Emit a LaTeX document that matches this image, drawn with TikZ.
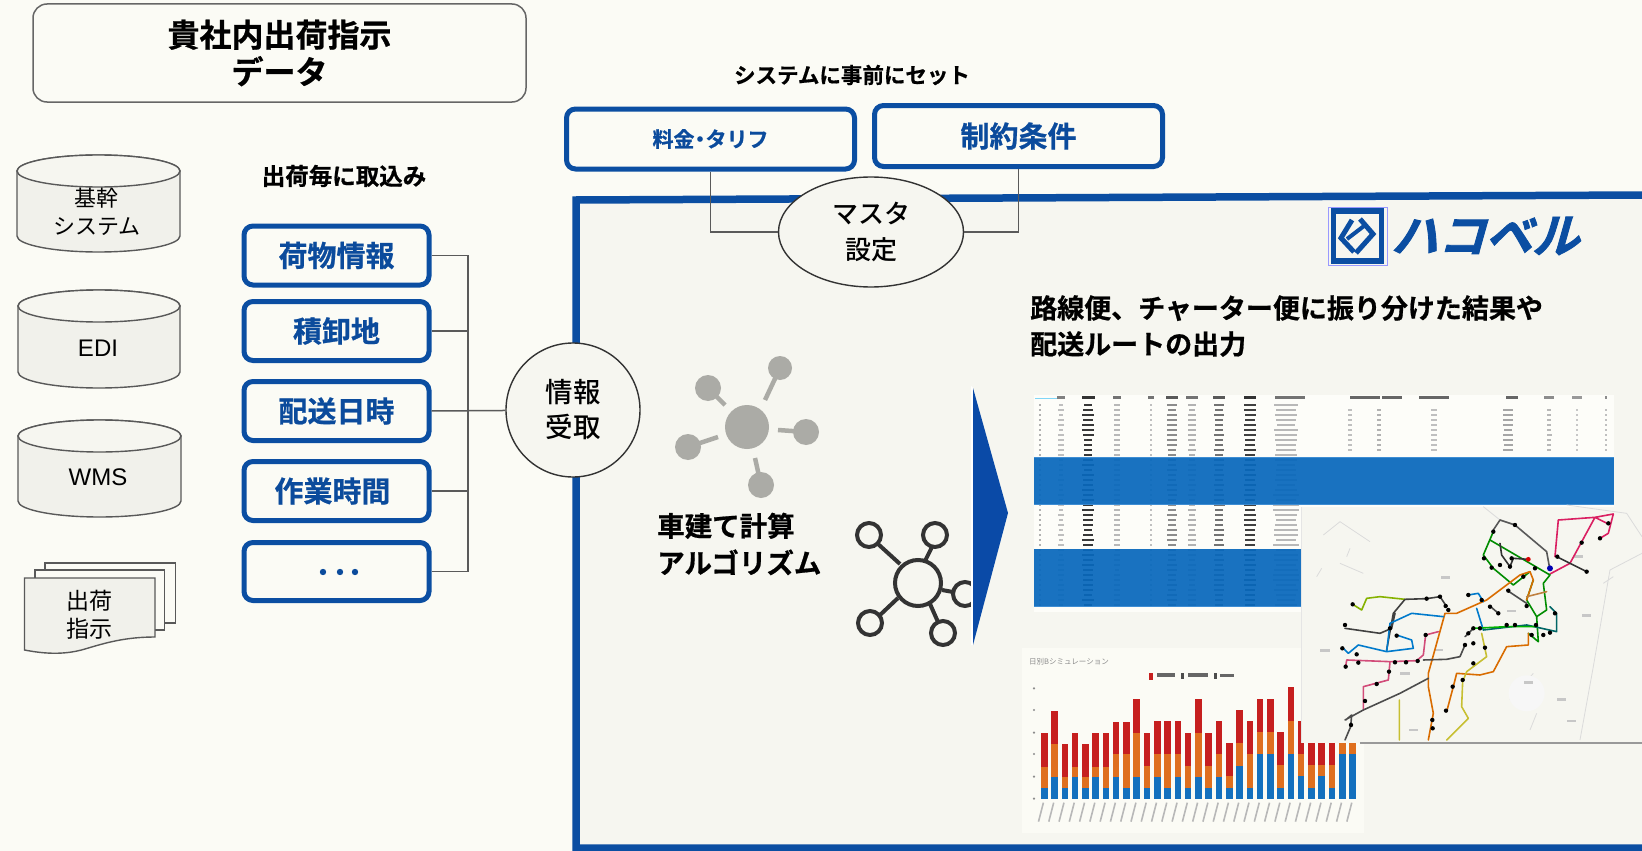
\documentclass[tikz,border=0pt]{standalone}
\usepackage{fontspec}
\setmainfont{Noto Sans CJK JP}[BoldFont={Noto Sans CJK JP Bold},BoldFeatures={FakeBold=0.7}]
\newfontfamily\latinfont{Liberation Sans}
\newfontfamily\medfont{Noto Sans CJK JP Medium}
\newfontfamily\logofont{Noto Sans CJK JP Bold}[FakeSlant=0.28,FakeBold=1.8]
\usetikzlibrary{shapes.geometric}
\definecolor{paper}{HTML}{FBFBF5}
\definecolor{inner}{HTML}{F6F6F0}
\definecolor{hblue}{HTML}{0B4EA2}
\definecolor{tblue}{HTML}{0B4B9C}
\definecolor{band}{HTML}{0868BC}
\definecolor{lineg}{HTML}{5A5A5A}
\definecolor{cylf}{HTML}{F1F1EB}
\definecolor{icong}{HTML}{ABABA6}
\definecolor{barb}{HTML}{1470BE}
\definecolor{baro}{HTML}{DF6F1E}
\definecolor{barr}{HTML}{C61F1E}
\tikzset{
  bluebox/.style={draw=hblue,line width=5pt,rounded corners=9pt,fill=paper,text=tblue,inner sep=0pt,align=center},
  plain/.style={inner sep=0pt,align=center,text=black},
  round/.style={ellipse,draw=black!80,line width=1.4pt,fill=inner,inner sep=0pt,align=center},
  link/.style={draw=lineg,line width=1.5pt},
  shapeline/.style={draw=black!65,line width=1.4pt,fill=cylf},
  route/.style={line width=1.6pt,line join=round,line cap=round},
  rule/.style={line width=.8pt,draw=black!14},
}
\newcommand{\cylinder}[5]{% x1 x2 ycenter ry ybottom
  \pgfmathsetmacro{\rxx}{(#2-#1)/2}
  \draw[shapeline] (#1,#3) -- (#1,#5) arc[x radius=\rxx pt,y radius=#4pt,start angle=180,end angle=360] -- (#2,#3) arc[x radius=\rxx pt,y radius=#4pt,start angle=0,end angle=180] -- cycle;
  \draw[shapeline,fill=inner] (#1,#3) arc[x radius=\rxx pt,y radius=#4pt,start angle=180,end angle=540] -- cycle;
}
\newcommand{\fsz}[2]{\fontsize{#1}{#2}\selectfont}
\newcommand{\lowered}[1]{\raisebox{-1.5pt}{#1}}
\begin{document}
\begin{tikzpicture}[x=1pt,y=-1pt]
\useasboundingbox (0,0) rectangle (1642,851);
\fill[paper] (0,0) rectangle (1642,851);

% big frame
\fill[inner] (576,200) -- (1642,195) -- (1642,848) -- (576,848) -- cycle;
\draw[hblue,line width=7.5pt,line join=miter] (1642,195) -- (576,200) -- (576,848) -- (1642,848);

% headline box
\node[draw=black!60,line width=1.5pt,rounded corners=14pt,fill=paper,minimum width=493pt,minimum height=98pt,plain,font=\fsz{32}{37}\bfseries] (head) at (279.5,53) {貴社内出荷指示\\データ};

% cylinders
\cylinder{17}{180}{171}{16}{236}
\node[plain,font=\fsz{22}{28}] (kikan) at (97,212) {基幹\\システム};
\cylinder{18}{180}{306}{16}{372}
\node[plain,font=\latinfont\fsz{24}{28}] (edi) at (98,348.5) {EDI};
\cylinder{18}{181}{436}{16}{501}
\node[plain,font=\latinfont\fsz{24}{28}] (wms) at (98,477.5) {WMS};

% documents
\draw[shapeline,fill=paper] (45,563) -- (175.5,563) -- (175.5,623) -- (45,623) -- cycle;
\draw[shapeline,fill=paper] (35,570) -- (164.5,570) -- (164.5,630) -- (35,630) -- cycle;
\draw[shapeline] (24.5,578) -- (155,578) -- (155,637) .. controls (125,637) and (105,643) .. (85,649) .. controls (65,655) and (45,654) .. (24.5,650) -- cycle;
\node[plain,font=\fsz{23}{28}] (docs) at (89,615) {出荷\\指示};

% source labels
\node[plain,font=\fsz{23.5}{28}\bfseries] (lab1) at (344,176) {出荷毎に取込み};
\node[plain,font=\fsz{21.5}{26}\bfseries] (lab2) at (852,75) {システムに事前にセット};

% item boxes
\node[bluebox,minimum width=185pt,minimum height=59pt,font=\fsz{29}{34}\bfseries] (b1) at (336.5,255.5) {\lowered{荷物情報}};
\node[bluebox,minimum width=185pt,minimum height=59pt,font=\fsz{29}{34}\bfseries] (b2) at (336.5,331) {\lowered{積卸地}};
\node[bluebox,minimum width=185pt,minimum height=59pt,font=\fsz{29}{34}\bfseries] (b3) at (336.5,411) {\lowered{配送日時}};
\node[bluebox,minimum width=185pt,minimum height=59pt,font=\fsz{29}{34}\bfseries] (b4) at (336.5,491) {\hspace*{-8pt}\lowered{作業時間}};
\node[bluebox,minimum width=185pt,minimum height=58pt] (b5) at (336.5,571.5) {};
\foreach \dx in {323,340,355} \fill[tblue] (\dx,572) circle[radius=3.2pt];

% top boxes
\node[bluebox,minimum width=288pt,minimum height=60pt,font=\fsz{21}{26}\bfseries] (rate) at (710.5,139) {\lowered{料金\hspace{-5pt}・\hspace{-5pt}タリフ}};
\node[bluebox,minimum width=288pt,minimum height=61pt,font=\fsz{29}{34}\bfseries] (cond) at (1018.5,136) {\lowered{制約条件}};

% circles
\node[round,minimum width=134pt,minimum height=134pt,font=\medfont\fsz{27.5}{35}] (info) at (573,410) {情報\\受取};
\node[round,minimum width=185pt,minimum height=110pt,font=\medfont\fsz{26}{36}] (master) at (871,232) {マスタ\\設定};

% connectors
\coordinate (busbot) at (468,571.5);
\draw[link] (b1.east) -| (busbot);
\draw[link] (b2.east) -- (b2.east -| busbot);
\draw[link] (b4.east) -- (b4.east -| busbot);
\draw[link] (b5.east) -- (busbot);
\draw[link] (b3.east) -- (info);
\draw[link] (rate.south) |- (master);
\draw[link] (cond.south) |- (master);

% logo
\draw[blue!40!white,line width=1pt] (1328,207) rectangle (1387,265);
\draw[hblue,line width=5.5pt] (1333.5,211) rectangle (1381.5,261);
\draw[hblue,line width=5pt,line join=miter] (1352,220) -- (1341,238) -- (1354,252);
\draw[hblue,line width=5pt,line join=miter] (1360,219) -- (1373,234) -- (1356,253);
\draw[hblue,line width=4pt] (1347,239) -- (1364,226);
\node[inner sep=0pt,text=hblue,font=\logofont\fsz{47}{52}] (logo) at (1485,236) {ハコベル};

% output heading
\node[plain,align=left,anchor=west,font=\fsz{27}{36}\bfseries] (outp) at (1030,326) {路線便、チャーター便に振り分けた結果や\\配送ルートの出力};

% gray network icon
\foreach \ax/\ay/\bx/\by in {780/368/765/400,708/388/725/405,688/447/718/437,806/432/778/430,761/485/755/458}
  \draw[icong,line width=4.5pt] (\ax,\ay) -- (\bx,\by);
\fill[icong] (747,427) circle[radius=22pt];
\foreach \ax/\ay/\r in {780/368/12,708/388/13,688/447/13,806/432/13,761/485/13}
  \fill[icong] (\ax,\ay) circle[radius=\r pt];

\node[plain,align=left,anchor=west,font=\fsz{27.5}{37}\bfseries] (algo) at (657,544) {車建て計算\\アルゴリズム};

% outline network icon
\draw[black!80,line width=4pt] (918,583) circle[radius=23pt];
\foreach \ax/\ay in {869/535,935/535,870/623,943/633,965/594}
  \draw[black!80,line width=4pt] (\ax,\ay) circle[radius=12pt];
\foreach \ax/\ay/\bx/\by in {878/544/900/564,932/547/925/561,880/615/898/598,938/622/930/604,953/592/942/590}
  \draw[black!80,line width=4pt] (\ax,\ay) -- (\bx,\by);

% big arrow
\fill[white] (971,386) -- (973,388) -- (973,645) -- (971,645) -- cycle;
\fill[hblue!95!blue] (973,388) -- (1008,513) -- (973,645) -- cycle;

% bar chart panel
\fill[paper] (1022,648) rectangle (1364,833);
\begin{scope}[shift={(1000,620)},x=0.4095pt,y=-.3333pt]
  \foreach \i/\b/\o/\r in {0/505/440/340,1/472/372/272,2/505/472/372,3/472/440/340,4/505/472/372,5/472/440/340,6/505/440/340,7/472/403/305,8/505/403/305,9/472/338/238,10/505/437/340,11/472/403/303,12/505/403/303,13/470/403/303,14/505/437/338,15/472/338/238,16/505/437/338,17/472/403/303,18/505/468/370,19/437/370/270,20/505/403/303,21/403/335/238,22/403/335/238,23/505/435/335,24/403/302/202,25/468/403/302,26/505/435/365,27/468/435/365,28/505/435/365,29/403/365/365,30/403/365/365}{
    \pgfmathsetmacro{\cx}{108+25.1*\i}
    \fill[barr] ({\cx-8},\r) rectangle ({\cx+8},\o);
    \fill[baro] ({\cx-8},\o) rectangle ({\cx+8},\b);
    \fill[barb] ({\cx-8},\b) rectangle ({\cx+8},538);
    \draw[black!28,line width=1.6pt] ({\cx-2},548) -- ({\cx-14},605);
  }
  \foreach \yy in {205,270,338,402,470,536}
    \fill[black!45] (83,\yy) circle[radius=1.2pt];
  \fill[barr] (364,158) rectangle (374,180);
  \fill[black!60] (384,160) rectangle (428,172);
  \fill[black!70] (443,158) rectangle (450,176);
  \fill[black!60] (458,160) rectangle (508,172);
  \fill[black!70] (522,158) rectangle (529,176);
  \fill[black!60] (538,162) rectangle (572,170);
\end{scope}
\node[inner sep=0pt,anchor=west,text=black!45,font=\fsz{7.5}{9}] (ctitle) at (1029,662) {日別Bシミュレーション};

% table
\fill[paper!60!white] (1034,395) rectangle (1614,612);
\draw[cyan!50!white,line width=1pt] (1035,398) -- (1060,398);
\pgfmathsetseed{7}
\foreach \cxx/\w/\sh in {1061/8/50,1088/13/80,1117/8/55,1151/6/55,1172/12/65,1192/12/55,1219/12/65,1250/12/80,1290/30/55,1365/30/60,1392/20/60,1434/30/60,1512/12/60,1549/10/45,1577/10/40,1606/2/45}
  \fill[black!\sh] ({\cxx-\w/2},396) rectangle ({\cxx+\w/2},399);
\foreach \yy in {404,409,...,604}{
  \foreach \cxx/\w/\sh in {1040/2/30,1061/6/25,1088/12/78,1117/7/28,1151/3/25,1172/10/45,1192/9/30,1219/11/55,1250/13/75,1286/26/28}{
    \pgfmathsetmacro{\vv}{\w*(0.7+0.3*rnd)}
    \fill[black!\sh] ({\cxx-\vv/2},\yy) rectangle ({\cxx+\vv/2},\yy+2.2);
  }
}
\foreach \yy in {409,414,...,452}{
  \foreach \cxx/\w/\sh in {1350/5/25,1379/5/30,1434/7/25,1508/12/35,1549/5/28,1577/3/22,1606/2/25}{
    \pgfmathsetmacro{\vv}{\w*(0.7+0.3*rnd)}
    \fill[black!\sh] ({\cxx-\vv/2},\yy) rectangle ({\cxx+\vv/2},\yy+2.2);
  }
}
\fill[band,opacity=.93] (1034,457) rectangle (1614,504);
\draw[cyan!60!blue!80!white,line width=.8pt] (1034,457) -- (1614,457) (1034,504) -- (1614,504);
\fill[band,opacity=.93] (1034,549) rectangle (1301,606);
\draw[cyan!60!blue!80!white,line width=.8pt] (1034,606) -- (1301,606);

% map
\fill[paper!98!black] (1301,507) rectangle (1642,743);
\draw[black!10,line width=1pt] (1301,507) -- (1301,743);
\begin{scope}[shift={(1280,500)},x=.3333pt,y=-.3333pt]
  \draw[rule] (130,105) -- (180,65) -- (270,125) (200,170) -- (210,145) (110,230) -- (125,205) (180,190) -- (250,220)
    (860,15) -- (1040,40) -- (1086,110) (1086,160) -- (990,210) -- (940,500) -- (900,720) (690,600) -- (760,520) (770,640) -- (750,690) (610,20) -- (660,60) (1000,230) -- (970,250);
  \fill[black!3] (740,580) ellipse[x radius=18pt,y radius=18pt];
  \foreach \lx/\ly in {497/232,695/333,920/347,895/170,475/450,400/690,745/548,845/598,875/663,135/452,375/520}{
    \fill[black!22] (\lx-14,\ly-4) rectangle (\lx+14,\ly+4);
  }
  % routes
  \draw[route,color=magenta!60!red!90!black] (960,115) -- (985,100) -- (1000,42) -- (945,52) -- (835,60) -- (825,170) (945,52) -- (870,190) -- (810,222) (945,52) -- (985,72);
  \draw[route,color=black!65] (640,90) -- (660,60) -- (705,75) -- (800,155) -- (810,210);
  \draw[route,color=green!55!black] (640,95) -- (610,165) -- (640,205) -- (700,255) -- (750,215) (630,120) -- (810,225) -- (790,250) -- (800,330) -- (770,350) -- (775,425) -- (745,400) (760,240) -- (740,300) -- (770,350);
  \draw[route,color=black!80] (660,130) -- (665,165) -- (690,200) -- (700,175) -- (745,178) (830,170) -- (870,190) -- (920,215);
  \draw[route,color=black!70] (632,320) -- (655,340) (680,270) -- (740,310);
  \draw[route,color=orange!85!black] (445,720) -- (460,640) -- (445,560) -- (445,520) -- (495,340) -- (530,340) -- (620,300) -- (720,225) -- (750,215) -- (760,240) -- (740,300) (500,635) -- (520,560) -- (530,520) -- (600,525) -- (640,515) -- (680,440) -- (745,435) -- (745,400);
  \draw[route,color=yellow!75!black] (500,720) -- (565,655) -- (545,620) -- (548,545) -- (560,515) -- (620,470) -- (605,400) (358,720) -- (358,600);
  \draw[route,color=lime!70!black] (218,313) -- (245,330) -- (260,295) -- (300,290) -- (375,298);
  \draw[route,color=black!75] (375,298) -- (440,296) -- (480,290) -- (500,320) (375,298) -- (340,340) -- (320,450) (195,385) -- (300,400) -- (335,385) -- (345,340);
  \draw[route,color=blue!40!cyan!80!black] (320,455) -- (330,370) -- (395,340) -- (490,350) (350,405) -- (395,420) -- (400,445) -- (320,455) -- (235,435) -- (205,460) -- (190,445) (565,285) -- (595,280) -- (610,305) (590,325) -- (610,390);
  \draw[route,color=purple!70!white] (197,500) -- (200,480) -- (330,485) -- (410,482) -- (430,465) -- (437,405) -- (475,395) (330,485) -- (325,540) -- (250,560) -- (250,630);
  \draw[route,color=black!70] (195,660) -- (250,630) -- (360,580) -- (445,535) (430,480) -- (500,478) -- (540,470) -- (555,435) (555,410) -- (580,385) (197,660) -- (215,645) -- (212,680) -- (195,720);
  \draw[route,color=teal!80!black] (610,390) -- (740,375) -- (830,395) -- (830,340) -- (810,320);
  \draw[route,color=green!70!black] (580,385) -- (680,380) -- (770,380);
  \draw[route,color=brown] (740,290) -- (800,275);
  \foreach \dx/\dy in {218/313,195/375,187/445,230/463,197/500,235/488,255/603,290/552,327/515,345/487,378/487,413/483,437/405,350/407,330/385,440/296,480/290,497/318,505/330,565/285,605/300,655/340,630/320,685/272,730/230,765/205,810/205,832/170,905/128,960/115,985/70,920/215,705/75,640/95,612/175,635/203,660/195,690/200,695/175,740/318,768/375,755/405,790/405,810/398,825/340,680/375,705/375,580/385,565/400,580/430,555/435,615/443,580/490,548/540,518/560,498/632,457/660,458/685,213/675,600/385}
    \fill[black] (\dx,\dy) circle[radius=2.2pt];
  \fill[red!85!black] (745,178) circle[radius=2.4pt];
  \fill[blue!70!black] (810,205) circle[radius=3pt];
\end{scope}
\fill[black!40] (1360,742) rectangle (1642,744);
\end{tikzpicture}
\end{document}
